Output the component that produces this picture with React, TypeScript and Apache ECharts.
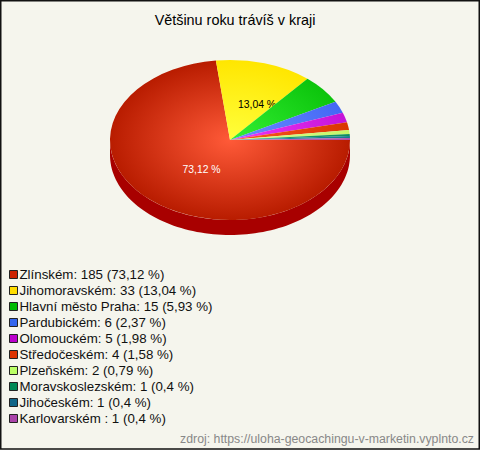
import React, { useEffect, useRef } from "react";
import * as echarts from "echarts";

const TITLE = "Většinu roku trávíš v kraji";
const SOURCE = "zdroj: https://uloha-geocachingu-v-marketin.vyplnto.cz";
const categories = ["Zlínském", "Jihomoravském", "Hlavní město Praha", "Pardubickém", "Olomouckém", "Středočeském", "Plzeňském", "Moravskoslezském", "Jihočeském", "Karlovarském "];
const counts = [185, 33, 15, 6, 5, 4, 2, 1, 1, 1];
const percents = ["73,12", "13,04", "5,93", "2,37", "1,98", "1,58", "0,79", "0,4", "0,4", "0,4"];
const edgeColors = ["#b81c00", "#ffe600", "#0cc40c", "#4468f5", "#c414d8", "#d93600", "#c4f56a", "#0d8f5c", "#157a90", "#b050a8"];
const innerColors = ["#ff5a38", "#ffff3c", "#34f034", "#6a8cff", "#f038f8", "#ff5a22", "#e0ff90", "#20a870", "#2090a8", "#cc70c0"];
const legendColors = ["#cc2200", "#ffdd00", "#00bb00", "#3366ee", "#bb00cc", "#dd3300", "#bbff66", "#008855", "#116688", "#aa44aa"];
const labelled: Record<number, { dx: number; dy: number; color: string }> = {
  0: { dx: -28.5, dy: 29, color: "#ffffff" },
  1: { dx: 27, dy: -36, color: "#000000" },
};

const CX = 230, CY = 140, RX = 120, RY = 80, DEPTH = 15;
const total = counts.reduce((a, b) => a + b, 0);
const FONT = '"Liberation Sans", Arial, sans-serif';

function sliceRange(i: number) {
  let before = 0;
  for (let k = 0; k < i; k++) before += counts[k];
  return [(before / total) * Math.PI * 2, ((before + counts[i]) / total) * Math.PI * 2];
}

function renderSlice(params: any, api: any) {
  const i = params.seriesIndex;
  const [a0, a1] = sliceRange(i);
  void api.value(0);
  const children: any[] = [];
  const visEnd = Math.min(a1, Math.PI);
  if (a0 < Math.PI) {
    const pts: number[][] = [];
    const steps = 90;
    for (let s = 0; s <= steps; s++) {
      const a = a0 + ((visEnd - a0) * s) / steps;
      pts.push([CX + RX * Math.cos(a), CY + RY * Math.sin(a)]);
    }
    for (let s = steps; s >= 0; s--) {
      const a = a0 + ((visEnd - a0) * s) / steps;
      pts.push([CX + RX * Math.cos(a), CY + DEPTH + RY * Math.sin(a)]);
    }
    children.push({ type: "polygon", shape: { points: pts }, style: { fill: "#a80000" }, silent: true });
  }
  children.push({
    type: "group",
    x: CX,
    y: CY,
    scaleX: 1,
    scaleY: RY / RX,
    children: [
      {
        type: "sector",
        shape: { cx: 0, cy: 0, r: RX, r0: 0, startAngle: a0, endAngle: a1, clockwise: true },
        style: {
          fill: new echarts.graphic.RadialGradient(0, 0, RX, [
            { offset: 0, color: innerColors[i] },
            { offset: 1, color: edgeColors[i] },
          ], true),
        },
      },
    ],
  });
  const lab = labelled[i];
  if (lab) {
    children.push({
      type: "text",
      x: CX + lab.dx,
      y: CY + lab.dy,
      style: {
        text: percents[i] + " %",
        fill: lab.color,
        font: `10.4px ${FONT}`,
        align: "center",
        verticalAlign: "middle",
      },
    });
  }
  return { type: "group", children };
}

export default function App() {
  const ref = useRef<HTMLDivElement>(null);
  useEffect(() => {
    document.body.style.margin = "0";
    const chart = echarts.init(ref.current!, undefined, { renderer: "svg" });
    chart.setOption({
      animation: false,
      backgroundColor: "#f5f5ed",
      title: {
        text: TITLE,
        left: 230,
        top: 8,
        textAlign: "center",
        textStyle: { fontFamily: FONT, fontSize: 14.4, fontWeight: "normal", color: "#000" },
      },
      legend: {
        orient: "vertical",
        left: 4,
        top: 263,
        itemWidth: 8,
        itemHeight: 8,
        itemGap: 3,
        icon: "rect",
        selectedMode: false,
        data: categories.map((name, i) => ({ name, itemStyle: { color: legendColors[i], borderColor: "#222", borderWidth: 1 } })),
        formatter: (name: string) => {
          const i = categories.indexOf(name);
          return `${name}: ${counts[i]} (${percents[i]} %)`;
        },
        textStyle: { fontFamily: FONT, fontSize: 13.3, color: "#111", padding: [0, 0, 0, -3], lineHeight: 13 },
      },
      series: categories.map((name, i) => ({
        type: "custom",
        name,
        coordinateSystem: "none",
        itemStyle: { color: legendColors[i] },
        data: [[counts[i]]],
        renderItem: renderSlice,
        silent: true,
      })),
      graphic: [
        { type: "polygon", shape: { points: [[0.75, 0.75], [0.75, 449], [479.25, 449], [479.25, 0.75]] }, style: { fill: "none", stroke: "#111", lineWidth: 1.5 } },
        { type: "text", right: 6, top: 433, style: { text: SOURCE, fill: "#888", font: `12.3px ${FONT}` } },
      ],
    });
    return () => chart.dispose();
  }, []);
  return <div ref={ref} style={{ width: 480, height: 450 }} />;
}
